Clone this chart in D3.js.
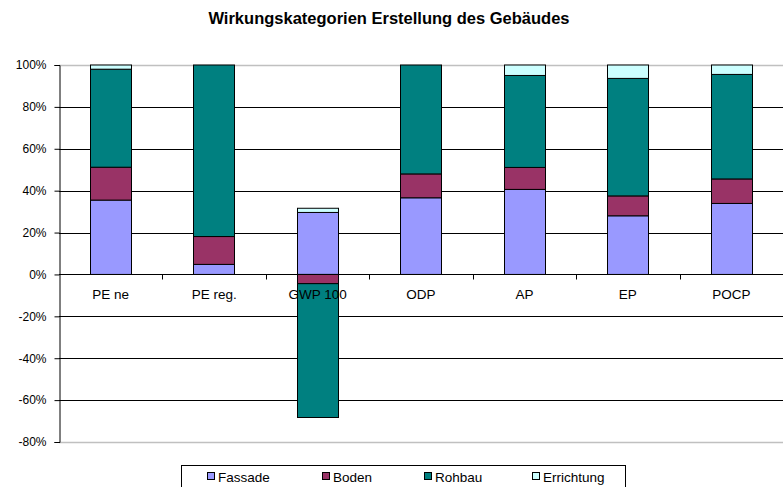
<!DOCTYPE html>
<html>
<head>
<meta charset="utf-8">
<script src="https://cdn.jsdelivr.net/npm/d3@7"></script>
<style>
  html, body { margin: 0; padding: 0; background: #fff; }
  svg { display: block; font-family: "Liberation Sans", Arial, sans-serif; }
</style>
</head>
<body>
<svg id="chart" width="784" height="487"></svg>
<script>
// Impact categories and the share (%) contributed by each building part
const categories = ["PE ne", "PE reg.", "GWP 100", "ODP", "AP", "EP", "POCP"];
const seriesNames = ["Fassade", "Boden", "Rohbau", "Errichtung"];
const fassade    = [35.5,  4.8, 29.6, 36.6, 40.6, 28.0, 33.9];
const boden      = [15.7, 13.3, -4.4, 11.4, 10.5,  9.5, 11.7];
const rohbau     = [46.8, 81.9, -63.9, 52.0, 43.9, 56.1, 49.9];
const errichtung = [ 2.0,  0.0,  2.0,  0.0,  5.0,  6.4,  4.5];
const yTicks = [-80, -60, -40, -20, 0, 20, 40, 60, 80, 100];
const colors = ["#9999FF", "#993366", "#008080", "#CCFFFF"];

const rows = categories.map((c, i) => ({
  cat: c,
  Fassade: fassade[i],
  Boden: boden[i],
  Rohbau: rohbau[i],
  Errichtung: errichtung[i]
}));

const svg = d3.select("#chart");
const plot = { left: 59, right: 783, top: 65, bottom: 442 };

const x = d3.scaleBand()
  .domain(categories)
  .range([plot.left, plot.right])
  .paddingInner(0.6)
  .paddingOuter(0.3);

const xBand = d3.scaleBand()
  .domain(categories)
  .range([plot.left, plot.right]);

const y = d3.scaleLinear()
  .domain([-80, 100])
  .range([plot.bottom, plot.top]);

// Title
svg.append("text")
  .attr("x", 389)
  .attr("y", 24)
  .attr("text-anchor", "middle")
  .attr("font-size", "16.5px")
  .attr("font-weight", "bold")
  .attr("fill", "#000")
  .text("Wirkungskategorien Erstellung des Gebäudes");

// Horizontal gridlines
svg.append("g")
  .selectAll("line")
  .data(yTicks.filter(t => t !== 0))
  .join("line")
  .attr("x1", plot.left)
  .attr("x2", plot.right)
  .attr("y1", d => Math.round(y(d)) + 0.5)
  .attr("y2", d => Math.round(y(d)) + 0.5)
  .attr("stroke", d => (d === 100 || d === -80) ? "#c0c0c0" : "#000")
  .attr("stroke-width", d => (d === 100 || d === -80) ? 1.5 : 1);

// Y axis
const yAxis = svg.append("g")
  .attr("transform", `translate(${plot.left + 0.5},0)`)
  .call(d3.axisLeft(y).tickValues(yTicks).tickSize(5).tickPadding(8)
    .tickFormat(d => d + "%"));
yAxis.select(".domain").attr("stroke", "#000");
yAxis.selectAll(".tick line").attr("stroke", "#000");
yAxis.selectAll(".tick text")
  .attr("font-size", "12px")
  .attr("font-family", "Liberation Sans, Arial, sans-serif")
  .attr("fill", "#000");

// Stacked bars (positive segments up, negative down)
const stack = d3.stack()
  .keys(seriesNames)
  .offset(d3.stackOffsetDiverging);
const layers = stack(rows);

svg.append("g")
  .selectAll("g")
  .data(layers)
  .join("g")
  .attr("fill", (d, i) => colors[i])
  .selectAll("rect")
  .data(d => d.filter(s => Math.abs(s[1] - s[0]) > 0.01))
  .join("rect")
  .attr("x", d => Math.round(x(d.data.cat)) + 0.5)
  .attr("width", Math.round(x.bandwidth()))
  .attr("y", d => y(Math.max(d[0], d[1])))
  .attr("height", d => Math.abs(y(d[0]) - y(d[1])))
  .attr("stroke", "#000")
  .attr("stroke-width", 1);

// X axis along zero line, ticks between categories
const y0 = Math.round(y(0)) + 0.5;
const xAxisG = svg.append("g");
xAxisG.append("line")
  .attr("x1", plot.left).attr("x2", plot.right)
  .attr("y1", y0).attr("y2", y0)
  .attr("stroke", "#000");
xAxisG.selectAll("line.tick")
  .data(categories.slice(1))
  .join("line")
  .attr("class", "tick")
  .attr("x1", d => Math.round(xBand(d)) + 0.5)
  .attr("x2", d => Math.round(xBand(d)) + 0.5)
  .attr("y1", y0).attr("y2", y0 + 5)
  .attr("stroke", "#000");
xAxisG.selectAll("text")
  .data(categories)
  .join("text")
  .attr("x", d => xBand(d) + xBand.bandwidth() / 2)
  .attr("y", y0 + 24)
  .attr("text-anchor", "middle")
  .attr("font-size", "13.5px")
  .attr("fill", "#000")
  .text(d => d);

// Legend
const legend = svg.append("g");
legend.append("rect")
  .attr("x", 181.5).attr("y", 465.5)
  .attr("width", 444).attr("height", 30)
  .attr("fill", "#fff")
  .attr("stroke", "#000");
const legendX = [207, 322, 424, 532];
const items = legend.selectAll("g.item")
  .data(seriesNames)
  .join("g")
  .attr("class", "item")
  .attr("transform", (d, i) => `translate(${legendX[i]},0)`);
items.append("rect")
  .attr("x", 0.5).attr("y", 472.5)
  .attr("width", 7).attr("height", 7)
  .attr("fill", (d, i) => colors[i])
  .attr("stroke", "#000");
items.append("text")
  .attr("x", 11)
  .attr("y", 481.5)
  .attr("font-size", "13.5px")
  .attr("fill", "#000")
  .text(d => d);
</script>
</body>
</html>
